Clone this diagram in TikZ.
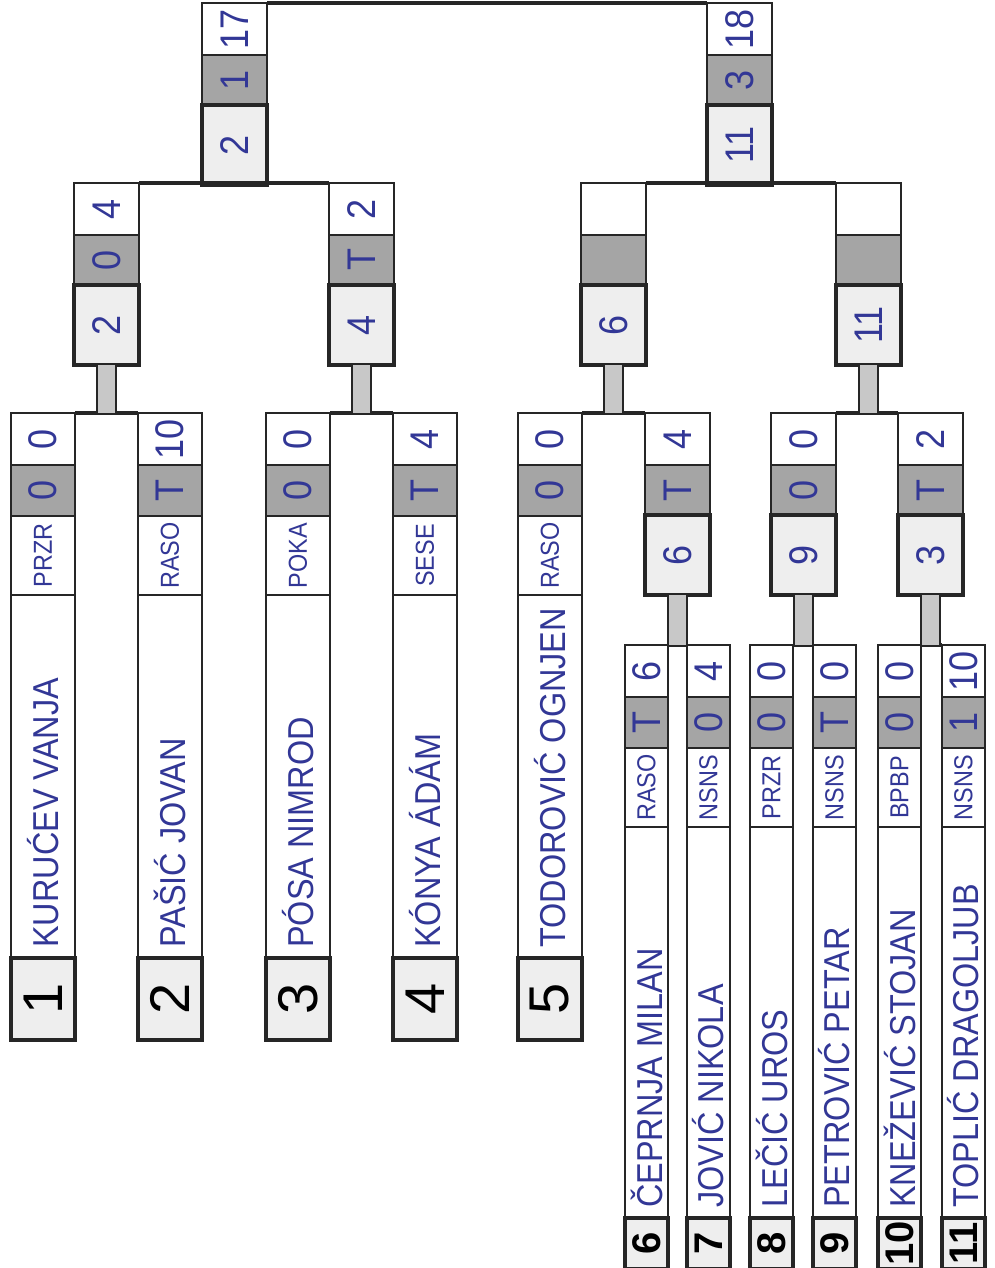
\documentclass[tikz,border=0pt]{standalone}
\usepackage{fontspec}
\setmainfont{Liberation Sans}
\newfontfamily\hand[FakeStretch=0.9]{Liberation Sans}
\usetikzlibrary{positioning}

\definecolor{ink}{RGB}{50,55,150}
\definecolor{shade}{RGB}{165,165,165}
\definecolor{pale}{RGB}{238,238,238}
\definecolor{bar}{RGB}{200,200,200}

\newcommand\turn[1]{\rotatebox{90}{#1}}

\tikzset{
  cell/.style={draw=black!85,line width=1pt,fill=white,inner sep=0pt,outer sep=0pt,
    anchor=north west,text=ink,font=\hand\fontsize{20}{20}\selectfont},
  seed/.style={cell,fill=pale,line width=2.2pt},
  big/.style={minimum width=32pt},
  small/.style={minimum width=21.5pt},
  match/.style={minimum width=32.5pt},
  big name/.style={minimum height=181.5pt},
  small name/.style={minimum height=195.5pt},
  big num/.style={minimum height=41pt,font=\fontsize{28}{28}\selectfont},
  small num/.style={minimum height=25.5pt,font=\bfseries\fontsize{20}{20}\selectfont},
  player/.style={text=ink,font=\hand\fontsize{18}{18}\selectfont,inner sep=0pt},
  club/.style={font=\hand\fontsize{13}{13}\selectfont},
  bracket/.style={line width=2pt,draw=black!85},
  link/.style={line width=1pt,draw=black!85,double=bar,double distance=8.5pt},
}

% id, x, y, size, score, grey, club, name, number
\newcommand\player[9]{%
  \node[cell,#4,minimum height=26pt] (#1s) at (#2,#3) {\turn{#5}};
  \node[cell,#4,fill=shade,minimum height=25.5pt,below=0pt of #1s] (#1g) {\turn{#6}};
  \node[cell,#4,club,minimum height=39.5pt,below=0pt of #1g] (#1c) {\turn{#7}};
  \node[cell,#4,#4 name,below=0pt of #1c] (#1n) {};
  \node[player,rotate=90,anchor=west] (#1t) at ([yshift=5pt]#1n.south) {#8};
  \node[seed,#4,#4 num,text=black,below=0pt of #1n] (#1x) {\turn{#9}};
}

% id, x, y, score, grey, winner
\newcommand\bout[6]{%
  \node[cell,match,minimum height=26pt] (#1s) at (#2,#3) {\turn{#4}};
  \node[cell,match,fill=shade,minimum height=25pt,below=0pt of #1s] (#1g) {\turn{#5}};
  \node[seed,match,minimum height=40pt,below=0pt of #1g] (#1w) {\turn{#6}};
}

\begin{document}
\begin{tikzpicture}[x=0.5pt,y=-0.5pt]
  \useasboundingbox (0,0) rectangle (995,1268);

  \bout{ta}{202}{3}{17}{1}{2}
  \bout{tb}{707}{3}{18}{3}{11}

  \bout{ra}{74}{183}{4}{0}{2}
  \bout{rb}{329}{183}{2}{T}{4}
  \bout{rc}{581}{183}{}{}{6}
  \bout{rd}{836}{183}{}{}{11}

  \bout{qa}{645}{413}{4}{T}{6}
  \bout{qb}{771}{413}{0}{0}{9}
  \bout{qc}{898}{413}{2}{T}{3}

  \player{p1}{11}{413}{big}{0}{0}{PRZR}{KURUĆEV VANJA}{1}
  \player{p2}{138}{413}{big}{10}{T}{RASO}{PAŠIĆ JOVAN}{2}
  \player{p3}{266}{413}{big}{0}{0}{POKA}{PÓSA NIMROD}{3}
  \player{p4}{393}{413}{big}{4}{T}{SESE}{KÓNYA ÁDÁM}{4}
  \player{p5}{518}{413}{big}{0}{0}{RASO}{TODOROVIĆ OGNJEN}{5}

  \player{p6}{625}{645}{small}{6}{T}{RASO}{ČEPRNJA MILAN}{6}
  \player{p7}{687}{645}{small}{4}{0}{NSNS}{JOVIĆ NIKOLA}{7}
  \player{p8}{750}{645}{small}{0}{0}{PRZR}{LEČIĆ UROS}{8}
  \player{p9}{813}{645}{small}{0}{T}{NSNS}{PETROVIĆ PETAR}{9}
  \player{p10}{878}{645}{small}{0}{0}{BPBP}{KNEŽEVIĆ STOJAN}{10}
  \player{p11}{942}{645}{small}{10}{1}{NSNS}{TOPLIĆ DRAGOLJUB}{11}

  \draw[bracket] (tas.north east) -- (tbs.north west);
  \draw[bracket] (ras.north east) -- (rbs.north west);
  \draw[bracket] (rcs.north east) -- (rds.north west);
  \draw[bracket] (p1s.north east) -- (p2s.north west);
  \draw[bracket] (p3s.north east) -- (p4s.north west);
  \draw[bracket] (p5s.north east) -- (qas.north west);
  \draw[bracket] (qbs.north east) -- (qcs.north west);
  \draw[bracket] (p6s.north east) -- (p7s.north west);
  \draw[bracket] (p8s.north east) -- (p9s.north west);
  \draw[bracket] (p10s.north east) -- (p11s.north west);

  \draw[link] (raw.south) -- (raw.south |- p1s.north);
  \draw[link] (rbw.south) -- (rbw.south |- p3s.north);
  \draw[link] (rcw.south) -- (rcw.south |- p5s.north);
  \draw[link] (rdw.south) -- (rdw.south |- qbs.north);
  \draw[link] (qaw.south) -- (qaw.south |- p6s.north);
  \draw[link] (qbw.south) -- (qbw.south |- p8s.north);
  \draw[link] (qcw.south) -- (qcw.south |- p10s.north);
\end{tikzpicture}
\end{document}
